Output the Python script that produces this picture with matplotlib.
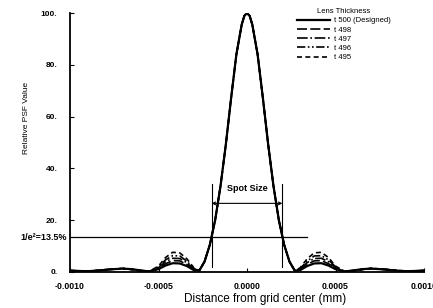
import matplotlib
matplotlib.use("Agg")
import matplotlib.pyplot as plt

plt.rcParams['font.family'] = ['Liberation Sans', 'DejaVu Sans']

# ---- data ----
x_mm = [-0.00100, -0.00095, -0.00090, -0.00085, -0.00080, -0.00075, -0.00070, -0.00065, -0.00060,
        -0.00055, -0.00050, -0.00046, -0.00042, -0.00038, -0.00034, -0.00030,
        -0.00027, -0.00024, -0.00021, -0.00018, -0.00015, -0.00012, -0.00009, -0.00006, -0.00003, -0.000015,
        0.0,
        0.000015, 0.00003, 0.00006, 0.00009, 0.00012, 0.00015, 0.00018, 0.00021, 0.00024, 0.00027,
        0.00030, 0.00034, 0.00038, 0.00042, 0.00046, 0.00050, 0.00055,
        0.00060, 0.00065, 0.00070, 0.00075, 0.00080, 0.00085, 0.00090, 0.00095, 0.00100]

psf_t500 = [0.6, 0.4, 0.3, 0.5, 0.8, 1.1, 1.3, 1.1, 0.6,
            0.2, 1.1, 2.5, 3.4, 3.3, 2.3, 0.7,
            0.5, 4.0, 10.5, 20.0, 33.0, 49.0, 67.0, 84.0, 95.5, 98.9,
            100.0,
            98.9, 95.5, 84.0, 67.0, 49.0, 33.0, 20.0, 10.5, 4.0, 0.5,
            0.7, 2.3, 3.3, 3.4, 2.5, 1.1, 0.2,
            0.6, 1.1, 1.3, 1.1, 0.8, 0.5, 0.3, 0.4, 0.6]
psf_t498 = [0.6, 0.4, 0.3, 0.5, 0.8, 1.1, 1.3, 1.0, 0.6,
            0.2, 1.4, 3.2, 4.4, 4.3, 2.9, 0.9,
            0.5, 4.0, 10.5, 20.0, 33.0, 49.0, 67.0, 84.0, 95.5, 98.9,
            100.0,
            98.9, 95.5, 84.0, 67.0, 49.0, 33.0, 20.0, 10.5, 4.0, 0.5,
            0.9, 2.9, 4.3, 4.4, 3.2, 1.4, 0.2,
            0.6, 1.0, 1.3, 1.1, 0.8, 0.5, 0.3, 0.4, 0.6]
psf_t497 = [0.5, 0.4, 0.3, 0.5, 0.9, 1.2, 1.3, 1.0, 0.5,
            0.2, 1.7, 4.0, 5.3, 5.2, 3.6, 1.1,
            0.5, 4.0, 10.5, 20.0, 33.0, 49.0, 67.0, 84.0, 95.5, 98.9,
            100.0,
            98.9, 95.5, 84.0, 67.0, 49.0, 33.0, 20.0, 10.5, 4.0, 0.5,
            1.1, 3.6, 5.2, 5.3, 4.0, 1.7, 0.2,
            0.5, 1.0, 1.3, 1.2, 0.9, 0.5, 0.3, 0.4, 0.5]
psf_t496 = [0.5, 0.3, 0.3, 0.6, 0.9, 1.2, 1.4, 1.0, 0.5,
            0.3, 2.0, 4.7, 6.3, 6.2, 4.2, 1.3,
            0.5, 4.0, 10.5, 20.0, 33.0, 49.0, 67.0, 84.0, 95.5, 98.9,
            100.0,
            98.9, 95.5, 84.0, 67.0, 49.0, 33.0, 20.0, 10.5, 4.0, 0.5,
            1.3, 4.2, 6.2, 6.3, 4.7, 2.0, 0.3,
            0.5, 1.0, 1.4, 1.2, 0.9, 0.6, 0.3, 0.3, 0.5]
psf_t495 = [0.5, 0.3, 0.4, 0.6, 0.9, 1.2, 1.4, 0.9, 0.4,
            0.3, 2.3, 5.6, 7.6, 7.4, 5.1, 1.6,
            0.5, 4.0, 10.5, 20.0, 33.0, 49.0, 67.0, 84.0, 95.5, 98.9,
            100.0,
            98.9, 95.5, 84.0, 67.0, 49.0, 33.0, 20.0, 10.5, 4.0, 0.5,
            1.6, 5.1, 7.4, 7.6, 5.6, 2.3, 0.3,
            0.4, 0.9, 1.4, 1.2, 0.9, 0.6, 0.4, 0.3, 0.5]

series_labels = ['t 500 (Designed)', 't 498', 't 497', 't 496', 't 495']
legend_title = 'Lens Thickness'

x_ticks = [-0.0010, -0.0005, 0.0, 0.0005, 0.0010]
x_tick_labels = ['-0.0010', '-0.0005', '0.0000', '0.0005', '0.0010']
y_ticks = [0, 20, 40, 60, 80, 100]
y_tick_labels = ['0.', '20.', '40.', '60.', '80.', '100.']

threshold = 13.5
threshold_label = '1/e²=13.5%'
threshold_x = [-0.0010, 0.00034]
spot_edges = [-0.0002, 0.0002]
spot_bar_y = [2, 34]
spot_arrow_y = 26.5

# ---- figure ----
fig = plt.figure(figsize=(4.33, 3.08), dpi=100)
ax = fig.add_axes([70/433, (308-272)/308, (424-70)/433, (272-13)/308])

styles = [
    dict(ls='-', lw=1.6),
    dict(ls=(0, (6, 2)), lw=1.2),
    dict(ls='-.', lw=1.2),
    dict(ls=(0, (5, 1.5, 1, 1.5, 1, 1.5)), lw=1.2),
    dict(ls=(0, (3, 2)), lw=1.2),
]
data = [psf_t500, psf_t498, psf_t497, psf_t496, psf_t495]
handles = []
for vals, lab, st in zip(data, series_labels, styles):
    h, = ax.plot(x_mm, vals, color='black', label=lab, **st)
    handles.append(h)

# threshold line and label
ax.plot(threshold_x, [threshold, threshold], color='black', lw=0.9)
ax.text(-0.008, threshold, threshold_label, transform=ax.get_yaxis_transform(),
        ha='right', va='center', fontsize=6.5, fontweight='bold')

# spot size markers
for xe in spot_edges:
    ax.plot([xe, xe], spot_bar_y, color='black', lw=0.8)
ax.annotate('', xy=(spot_edges[0], spot_arrow_y), xytext=(spot_edges[1], spot_arrow_y),
            arrowprops=dict(arrowstyle='<->', lw=0.8, color='black', mutation_scale=5,
                            shrinkA=0, shrinkB=0))
ax.text(0.0, 32.4, 'Spot Size', ha='center', va='center', fontsize=6.5, fontweight='bold')

ax.set_xlim(-0.0010, 0.0010)
ax.set_ylim(0, 100)
ax.set_xticks(x_ticks)
ax.set_xticklabels(x_tick_labels, fontsize=6.3, fontweight='bold')
ax.set_yticks(y_ticks)
ax.set_yticklabels(y_tick_labels, fontsize=6, fontweight='bold')
ax.tick_params(axis='x', direction='in', length=3, width=0.8, pad=7)
ax.tick_params(axis='y', direction='in', length=3, width=0.8, pad=9)

for s in ['top', 'right']:
    ax.spines[s].set_visible(False)
for s in ['left', 'bottom']:
    ax.spines[s].set_linewidth(1.3)

ax.set_xlabel('Distance from grid center (mm)', fontsize=8.5)
ax.xaxis.set_label_coords(0.55, -0.082)
ax.set_ylabel('Relative PSF Value', fontsize=6)
ax.yaxis.set_label_coords(-0.112, 0.595)

leg = ax.legend(handles=handles, title=legend_title, loc='upper left',
                bbox_to_anchor=(297/433, 1 - 8/308), bbox_transform=fig.transFigure,
                frameon=False, fontsize=5.5, title_fontsize=5.5, borderpad=0,
                borderaxespad=0, handlelength=4.3, handletextpad=0.6, labelspacing=0.25)

fig.savefig('out.png', dpi=100)
